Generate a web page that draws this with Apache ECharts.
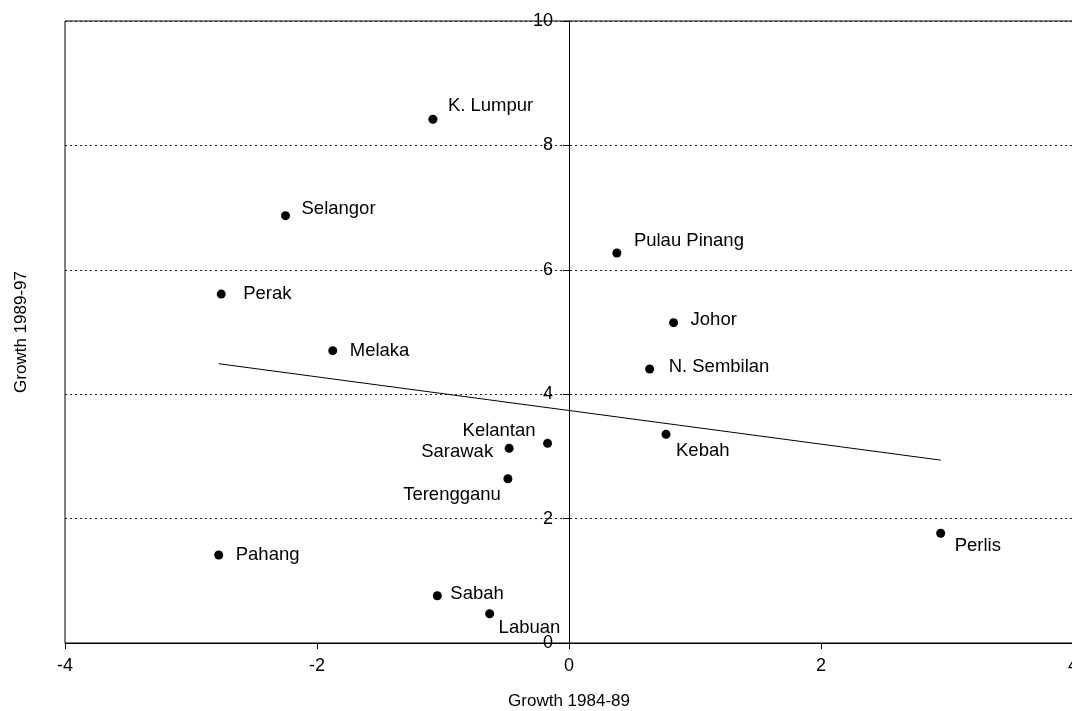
<!DOCTYPE html>
<html>
<head>
<meta charset="utf-8">
<script src="https://cdn.jsdelivr.net/npm/echarts@6/dist/echarts.min.js"></script>
<style>
  html, body { margin: 0; padding: 0; background: #fff; }
  #chart { width: 1072px; height: 711px; }
</style>
</head>
<body>
<div id="chart"></div>
<script>
// Malaysian states: growth 1984-89 vs growth 1989-97
const states = ['K. Lumpur', 'Selangor', 'Perak', 'Melaka', 'Pulau Pinang', 'Johor',
  'N. Sembilan', 'Kebah', 'Kelantan', 'Sarawak', 'Terengganu', 'Pahang', 'Sabah',
  'Labuan', 'Perlis'];
const growth8489 = [-1.08, -2.25, -2.76, -1.875, 0.38, 0.83, 0.64, 0.77, -0.17, -0.475,
  -0.485, -2.78, -1.045, -0.63, 2.95];
const growth8997 = [8.42, 6.87, 5.61, 4.70, 6.27, 5.15, 4.405, 3.355, 3.21, 3.13,
  2.64, 1.415, 0.76, 0.47, 1.765];

// fitted trend line end points
const trendX = [-2.78, 2.95];
const trendY = [4.49, 2.94];

const xRange = { min: -4, max: 4, interval: 2 };
const yRange = { min: 0, max: 10, interval: 2 };

const FONT = 'Liberation Sans, Arial, sans-serif';

// plot box in pixels
const PLOT = { left: 65, top: 21, width: 1008, height: 622 };
// the value axis is drawn through x = 0, i.e. halfway across the box
const yAxisShift = -PLOT.width / 2;

// where each state's name sits relative to its dot
const labelPlace = {
  'K. Lumpur':    { align: 'left',  offset: [15, -13] },
  'Selangor':     { align: 'left',  offset: [16, -7] },
  'Perak':        { align: 'left',  offset: [22, 0] },
  'Melaka':       { align: 'left',  offset: [17, 0] },
  'Pulau Pinang': { align: 'left',  offset: [17, -12] },
  'Johor':        { align: 'left',  offset: [17, -3] },
  'N. Sembilan':  { align: 'left',  offset: [19, -2] },
  'Kebah':        { align: 'left',  offset: [10, 17] },
  'Kelantan':     { align: 'right', offset: [-12, -12] },
  'Sarawak':      { align: 'right', offset: [-16, 4] },
  'Terengganu':   { align: 'right', offset: [-7, 16] },
  'Pahang':       { align: 'left',  offset: [17, 0] },
  'Sabah':        { align: 'left',  offset: [13, -2] },
  'Labuan':       { align: 'left',  offset: [9, 14] },
  'Perlis':       { align: 'left',  offset: [14, 13] }
};

const points = states.map((name, i) => ({
  name: name,
  value: [growth8489[i], growth8997[i]],
  label: {
    align: labelPlace[name].align,
    offset: labelPlace[name].offset
  }
}));

const trend = trendX.map((x, i) => [x, trendY[i]]);

const chart = echarts.init(document.getElementById('chart'), null, { renderer: 'canvas' });

chart.setOption({
  animation: false,
  backgroundColor: '#ffffff',
  grid: {
    left: PLOT.left, top: PLOT.top, width: PLOT.width, height: PLOT.height,
    containLabel: false,
    outerBoundsMode: 'none',
    show: true, borderColor: '#000', borderWidth: 1, backgroundColor: 'transparent'
  },
  xAxis: {
    type: 'value',
    min: xRange.min, max: xRange.max, interval: xRange.interval,
    name: 'Growth 1984-89',
    nameLocation: 'middle',
    nameGap: 50,
    nameTextStyle: { color: '#000', fontFamily: FONT, fontSize: 17 },
    axisLine: { show: true, onZero: false, lineStyle: { color: '#000', width: 1 } },
    axisTick: { show: true, length: 6, lineStyle: { color: '#000' } },
    axisLabel: { color: '#000', fontFamily: FONT, fontSize: 18, margin: 14,
      showMinLabel: true, showMaxLabel: true },
    splitLine: { show: false }
  },
  yAxis: [
    {
      type: 'value',
      position: 'left',
      offset: yAxisShift,
      min: yRange.min, max: yRange.max, interval: yRange.interval,
      axisLine: { show: true, onZero: false, lineStyle: { color: '#000', width: 1 } },
      axisTick: { show: true, length: 6, lineStyle: { color: '#000' } },
      axisLabel: { color: '#000', fontFamily: FONT, fontSize: 18, margin: 16,
        showMinLabel: true, showMaxLabel: true },
      splitLine: { show: true, lineStyle: { color: '#222', type: [2, 3], width: 1 } }
    },
    {
      type: 'value',
      position: 'left',
      min: yRange.min, max: yRange.max, interval: yRange.interval,
      name: 'Growth 1989-97',
      nameLocation: 'middle',
      nameGap: 35,
      nameTextStyle: { color: '#000', fontFamily: FONT, fontSize: 17 },
      axisLine: { show: false },
      axisTick: { show: false },
      axisLabel: { show: false },
      splitLine: { show: false }
    }
  ],
  series: [
    {
      type: 'line',
      data: trend,
      yAxisIndex: 0,
      symbol: 'none',
      lineStyle: { color: '#000', width: 1 },
      z: 2
    },
    {
      type: 'scatter',
      data: points,
      yAxisIndex: 0,
      symbol: 'circle',
      symbolSize: 9,
      itemStyle: { color: '#000', opacity: 1 },
      label: {
        show: true,
        position: 'inside',
        verticalAlign: 'middle',
        formatter: '{b}',
        color: '#000',
        opacity: 1,
        fontFamily: FONT,
        fontSize: 18.5
      },
      z: 3
    }
  ]
});
</script>
</body>
</html>
